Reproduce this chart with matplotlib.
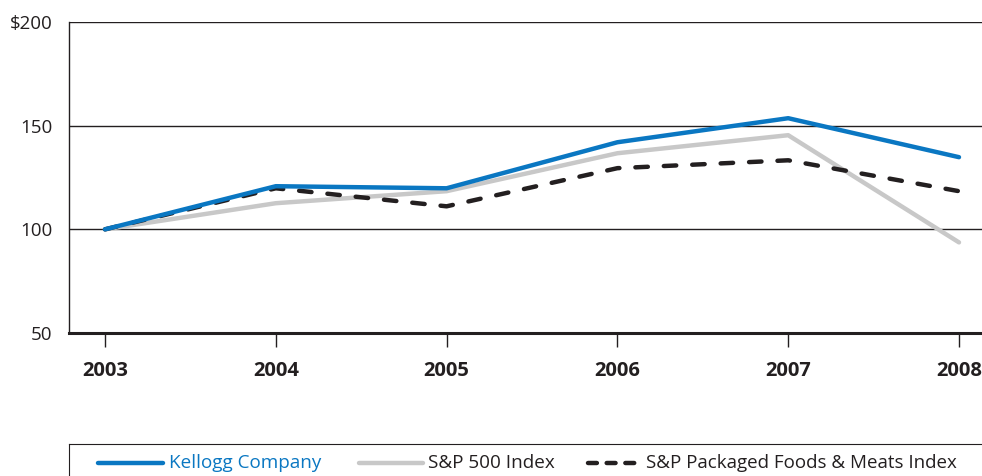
"""Five-year cumulative total return: Kellogg vs S&P indices"""

import matplotlib.pyplot as plt
from matplotlib.lines import Line2D

# data
# ========================================
years = [2003, 2004, 2005, 2006, 2007, 2008]
kellogg = [100, 120.8, 119.8, 142.0, 153.6, 134.8]
sp500 = [100, 112.6, 118.4, 136.7, 145.4, 93.7]
packaged = [100, 119.8, 111.1, 129.5, 133.3, 118.4]
yticks = [50, 100, 150, 200]
ytick_labels = ['50', '100', '150', '$200']
names = ['Kellogg Company', 'S&P 500 Index', 'S&P Packaged Foods & Meats Index']

blue = '#0a77c2'
grey = '#c8c8c8'
black = '#231f20'

plt.rcParams['font.family'] = ['Open Sans', 'DejaVu Sans']

fig = plt.figure(figsize=(9.82, 4.76), dpi=100)
ax = fig.add_axes([69 / 982, 1 - 333 / 476, 1 - 69 / 982, (333 - 22) / 476])

ax.plot(years, sp500, color=grey, lw=3.2, solid_capstyle='round', zorder=3)
ax.plot(years, packaged, color=black, lw=3.2, dashes=(2.8, 3.6),
        dash_capstyle='round', zorder=4)
ax.plot(years, kellogg, color=blue, lw=3.2, solid_capstyle='round', zorder=5)

ax.set_ylim(50, 200)
ax.set_xlim(2003 - 36 / 170.8, 2008 + 23 / 170.8)
ax.set_yticks(yticks)
ax.set_yticklabels(ytick_labels)
ax.set_xticks(years)
ax.set_xticklabels([str(y) for y in years], fontweight='bold')
for y in yticks[1:]:
    ax.axhline(y, color=black, lw=1.0, zorder=1)

for s in ['top', 'right']:
    ax.spines[s].set_visible(False)
ax.spines['left'].set_color(black)
ax.spines['left'].set_linewidth(1.0)
ax.spines['bottom'].set_color(black)
ax.spines['bottom'].set_linewidth(2.2)
ax.tick_params(axis='y', length=0, pad=12, labelsize=13.5, colors=black)
ax.tick_params(axis='x', length=10, width=1.0, pad=10, labelsize=14.5,
               colors=black, direction='out')

# legend box, drawn by hand at the bottom
# ========================================
lax = fig.add_axes([69 / 982, 0, 1 - 69 / 982, 32 / 476])
lax.set_xlim(69, 982)
lax.set_ylim(476, 444)
lax.set_xticks([])
lax.set_yticks([])
for s in ['bottom', 'right']:
    lax.spines[s].set_visible(False)
lax.spines['top'].set_color(black)
lax.spines['left'].set_color(black)

ly = 463
lax.add_line(Line2D([98, 163], [ly, ly], color=blue, lw=3.2,
                    solid_capstyle='round'))
lax.text(169, ly, names[0], color=blue, fontsize=13.6, va='center')
lax.add_line(Line2D([359, 423], [ly, ly], color=grey, lw=3.2,
                    solid_capstyle='round'))
lax.text(428, ly, names[1], color=black, fontsize=13.6, va='center')
lax.add_line(Line2D([588, 641], [ly, ly], color=black, lw=3.2,
                    dashes=(2.0, 2.2), dash_capstyle='round'))
lax.text(646, ly, names[2], color=black, fontsize=13.5, va='center')

fig.savefig('out.png', dpi=100)
